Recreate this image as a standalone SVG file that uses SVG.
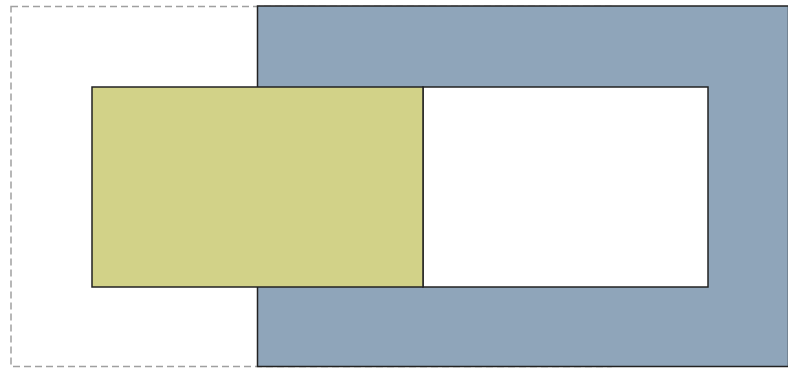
<svg xmlns="http://www.w3.org/2000/svg" width="788" height="370" viewBox="0 0 788 370">
<style>
.solid{stroke:#222;stroke-width:1.5}
</style>
<rect width="788" height="370" fill="#fff"/>
<g id="outline">
<rect x="11" y="6.5" width="600" height="360" fill="none" stroke="#a0a0a0" stroke-width="1.5" stroke-dasharray="7,4"/>
</g>
<g id="blue">
<rect class="solid" x="257.5" y="6" width="531" height="360.5" fill="#8fa5ba"/>
</g>
<g id="white">
<rect class="solid" x="423" y="87" width="285" height="200" fill="#fff"/>
</g>
<g id="yellow">
<rect class="solid" x="92" y="87" width="331" height="200" fill="#d2d288"/>
</g>
<g id="connectors"></g>
</svg>
